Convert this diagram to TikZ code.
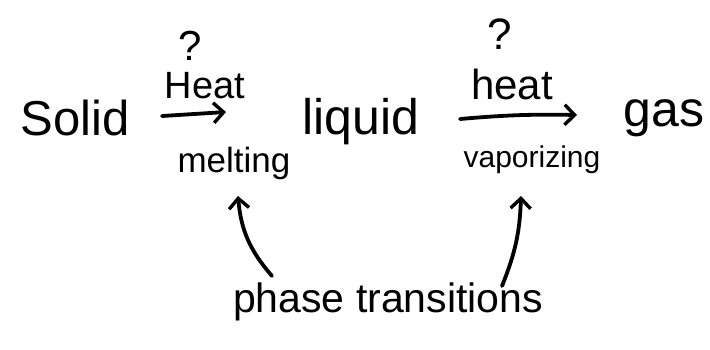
\documentclass[tikz,border=0pt]{standalone}
\usepackage{fontspec}
\setmainfont{Liberation Sans}
\usetikzlibrary{arrows.meta}
\tikzset{
  lbl/.style={inner sep=0pt, anchor=center},
  ink/.style={line width=3.8pt, line cap=round, -{Straight Barb[length=10pt,width=20pt,line width=3.4pt]}},
}
\newcommand{\fs}[1]{\fontsize{#1}{#1}\selectfont}
\begin{document}
\begin{tikzpicture}[x=1pt,y=-1pt]
\useasboundingbox[fill=white] (0,0) rectangle (710,349);
\node[lbl] (solid) at (75,118) {\fs{49}Solid};
\node[lbl] (liquid) at (361,122) {\fs{50}liquid};
\node[lbl] (gas) at (664,118) {\fs{50}gas};
\node[lbl] (heat1) at (205,86) {\fs{38}Heat};
\node[lbl] (q1) at (190,46) {\fs{42}?};
\node[lbl] (heat2) at (512,84) {\fs{42}heat};
\node[lbl] (q2) at (500,34) {\fs{44}?};
\node[lbl] (melt) at (234,163) {\fs{35}melting};
\node[lbl] (vap) at (532,160) {\fs{30}vaporizing};
\node[lbl] (phase) at (388,302) {\fs{41}phase transitions};
\coordinate (a1s) at (162,116);
\coordinate (a1e) at (226,112);
\coordinate (a2s) at (460,119);
\coordinate (a2e) at (577,115);
\coordinate (p1) at (272,276);
\coordinate (m1) at (238,196);
\coordinate (p2) at (502,286);
\coordinate (m2) at (521,196);
\draw[ink] (a1s) -- (a1e);
\draw[ink] (a2s) to[bend left=3] (a2e);
\draw[ink] (p1) to[bend left=18] (m1);
\draw[ink] (p2) to[bend right=10] (m2);
\end{tikzpicture}
\end{document}
